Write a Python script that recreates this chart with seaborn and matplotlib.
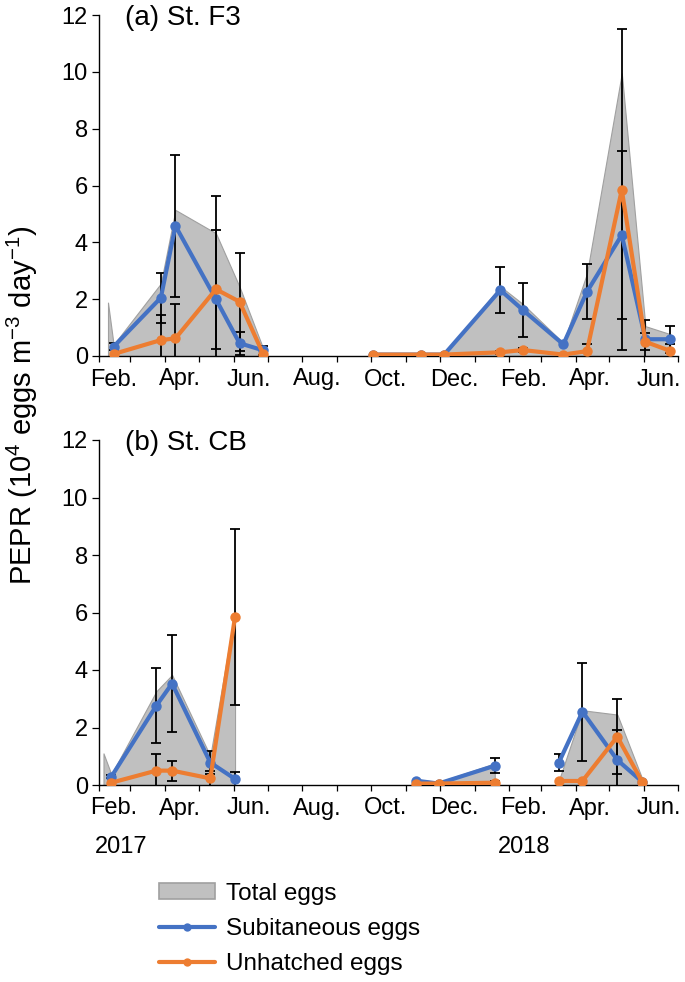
import numpy as np
import pandas as pd
import matplotlib
matplotlib.use("Agg")
import matplotlib.pyplot as plt
import matplotlib.transforms as mtransforms
from matplotlib.lines import Line2D
from matplotlib.patches import Patch
import seaborn as sns

# ---- (a) St. F3 ----
f3_dates = ["2017-02-14", "2017-03-28", "2017-04-10", "2017-05-16", "2017-06-06", "2017-06-27",
            "2017-10-03", "2017-11-14", "2017-12-05", "2018-01-24", "2018-02-13", "2018-03-21",
            "2018-04-11", "2018-05-12", "2018-06-02", "2018-06-24"]
f3_seg = [0, 0, 0, 0, 0, 0, 1, 1, 1, 1, 1, 1, 1, 1, 1, 1]
f3_sub = [0.33, 2.05, 4.58, 2.0, 0.45, 0.2, 0.05, 0.05, 0.05, 2.32, 1.62, 0.41, 2.26, 4.26, 0.59, 0.59]
f3_sub_sd = [0.12, 0.88, 2.5, 3.64, 0.41, 0.15, 0, 0, 0, 0.82, 0.94, 0, 0.97, 2.96, 0.68, 0.48]
f3_unh = [0.07, 0.56, 0.62, 2.35, 1.91, 0.07, 0.05, 0.05, 0.05, 0.13, 0.21, 0.05, 0.17, 5.85, 0.5, 0.18]
f3_unh_sd = [0, 0.88, 1.2, 2.09, 1.73, 0, 0, 0, 0, 0.06, 0.06, 0, 0.25, 5.65, 0.3, 0.24]
f3_tot_dates = ["2017-02-09", "2017-02-14", "2017-03-28", "2017-04-10", "2017-05-16", "2017-06-06", "2017-06-27",
                "2017-12-05", "2018-01-24", "2018-02-13", "2018-03-21", "2018-04-11", "2018-05-12",
                "2018-06-02", "2018-06-24"]
f3_tot_seg = [0, 0, 0, 0, 0, 0, 0, 1, 1, 1, 1, 1, 1, 1, 1]
f3_tot = [1.88, 0.4, 2.55, 5.14, 4.32, 2.44, 0.27, 0.05, 2.45, 1.83, 0.46, 2.9, 9.95, 1.05, 0.77]

# ---- (b) St. CB ----
cb_dates = ["2017-02-12", "2017-03-24", "2017-04-07", "2017-05-11", "2017-06-02",
            "2017-11-10", "2017-11-30", "2018-01-19",
            "2018-03-17", "2018-04-07", "2018-05-08", "2018-05-30"]
cb_seg = [0, 0, 0, 0, 0, 1, 1, 1, 2, 2, 2, 2]
cb_sub = [0.29, 2.76, 3.53, 0.78, 0.21, 0.15, 0.05, 0.67, 0.78, 2.55, 0.87, 0.12]
cb_sub_sd = [0.05, 1.3, 1.7, 0.4, 0.23, 0, 0, 0.26, 0.3, 1.7, 1.04, 0]
cb_unh = [0.08, 0.5, 0.5, 0.23, 5.85, 0.05, 0.05, 0.08, 0.14, 0.14, 1.68, 0.12]
cb_unh_sd = [0, 0.57, 0.35, 0.27, 3.05, 0, 0, 0.05, 0, 0, 1.3, 0]
cb_tot_dates = ["2017-02-05", "2017-02-12", "2017-03-24", "2017-04-07", "2017-05-11", "2017-06-02",
                "2017-11-10", "2017-11-30", "2018-01-19",
                "2018-03-17", "2018-04-07", "2018-05-08", "2018-05-30"]
cb_tot_seg = [0, 0, 0, 0, 0, 0, 1, 1, 1, 2, 2, 2, 2]
cb_tot = [1.1, 0.37, 3.26, 3.83, 1.01, 6.06, 0.2, 0.1, 0.75, 0.15, 2.6, 2.45, 0.24]

month_labels = ["Feb.", "Apr.", "Jun.", "Aug.", "Oct.", "Dec.", "Feb.", "Apr.", "Jun."]
years = ["2017", "2018"]
year_pos = ["2017-02-21", "2018-02-14"]
panel_titles = ["(a) St. F3", "(b) St. CB"]
series_names = ["Subitaneous eggs", "Unhatched eggs"]
colors = ["#4472C4", "#ED7D31"]

sns.set_style("ticks")
plt.rcParams["font.family"] = ["Liberation Sans", "DejaVu Sans"]
plt.rcParams["mathtext.fontset"] = "custom"
plt.rcParams["mathtext.rm"] = "Liberation Sans"
plt.rcParams["mathtext.default"] = "regular"
for k in ["text.color", "axes.labelcolor", "xtick.color", "ytick.color", "axes.edgecolor"]:
    plt.rcParams[k] = "black"

fig = plt.figure(figsize=(6.85, 9.82), dpi=100)
ax_a = fig.add_axes([99 / 685, 1 - 356 / 982, 579 / 685, 341 / 982])
ax_b = fig.add_axes([99 / 685, 1 - 785 / 982, 579 / 685, 345 / 982])

month_starts = pd.date_range("2017-02-01", "2018-07-01", freq="MS")
label_pos = month_starts[::2][:len(month_labels)] + pd.Timedelta(days=13)


def draw_panel(ax, dates, seg, sub, sub_sd, unh, unh_sd, tot_dates, tot_seg, tot, title):
    dates = pd.to_datetime(dates)
    tot_dates = pd.to_datetime(tot_dates)
    tot = np.array(tot)
    tot_seg = np.array(tot_seg)
    # total eggs as grey area, one polygon per sampling period
    for s in np.unique(tot_seg):
        m = tot_seg == s
        ax.fill_between(tot_dates[m], 0, tot[m], facecolor="#c0c0c0",
                        edgecolor="#a0a0a0", linewidth=0.8, zorder=1)

    # error bars
    for vals, sd in [(sub, sub_sd), (unh, unh_sd)]:
        vals = np.array(vals)
        sd = np.array(sd)
        m = sd > 0
        ax.errorbar(dates[m], vals[m], yerr=sd[m], fmt="none", ecolor="black",
                    elinewidth=1.3, capsize=3.5, capthick=1.3, zorder=2)

    df = pd.DataFrame({
        "date": list(dates) * 2,
        "value": list(sub) + list(unh),
        "series": [series_names[0]] * len(sub) + [series_names[1]] * len(unh),
        "seg": list(seg) * 2,
    })
    sns.lineplot(data=df, x="date", y="value", hue="series", units="seg",
                 estimator=None, palette=colors, hue_order=series_names,
                 marker="o", markersize=7.5, markeredgewidth=0, linewidth=3,
                 legend=False, ax=ax, zorder=3)

    ax.set_xlim(month_starts[0], month_starts[-1])
    ax.set_ylim(0, 12)
    ax.set_yticks(range(0, 13, 2))
    ax.set_xticks(month_starts)
    ax.set_xticklabels([])
    ax.set_xticks(label_pos, minor=True)
    ax.set_xticklabels(month_labels, minor=True)
    ax.tick_params(axis="x", which="major", length=4, width=0.9, direction="out")
    ax.tick_params(axis="x", which="minor", length=0, pad=9, labelsize=17)
    ax.tick_params(axis="y", length=5, width=0.9, pad=3, labelsize=17)
    ax.set_xlabel("")
    ax.set_ylabel("")
    for sp in ["left", "bottom"]:
        ax.spines[sp].set_linewidth(1.0)
    sns.despine(ax=ax)
    ax.text(0.045, 0.99, title, transform=ax.transAxes, ha="left", va="center", fontsize=20)


draw_panel(ax_a, f3_dates, f3_seg, f3_sub, f3_sub_sd, f3_unh, f3_unh_sd,
           f3_tot_dates, f3_tot_seg, f3_tot, panel_titles[0])
draw_panel(ax_b, cb_dates, cb_seg, cb_sub, cb_sub_sd, cb_unh, cb_unh_sd,
           cb_tot_dates, cb_tot_seg, cb_tot, panel_titles[1])

# year labels under the February ticks
trans = mtransforms.blended_transform_factory(ax_b.transData, ax_b.transAxes)
for yr, pos in zip(years, pd.to_datetime(year_pos)):
    ax_b.text(pos, -0.18, yr, transform=trans, ha="center", va="center", fontsize=17)

fig.text(22 / 685, 1 - 405 / 982, "PEPR (10$^{4}$ eggs m$^{-3}$ day$^{-1}$)",
         rotation=90, ha="center", va="center", fontsize=21)

handles = [
    Patch(facecolor="#c0c0c0", edgecolor="#a0a0a0", linewidth=1.2),
    Line2D([], [], color=colors[0], linewidth=3, marker="o", markersize=6, markeredgewidth=0),
    Line2D([], [], color=colors[1], linewidth=3, marker="o", markersize=6, markeredgewidth=0),
]
fig.legend(handles, ["Total eggs"] + series_names, loc="upper left",
           bbox_to_anchor=(149 / 685, 1 - 873 / 982), frameon=False, fontsize=17.5,
           handlelength=2.3, handleheight=0.6, handletextpad=0.45, labelspacing=0.55,
           borderaxespad=0)

fig.savefig("out.png", dpi=100)
